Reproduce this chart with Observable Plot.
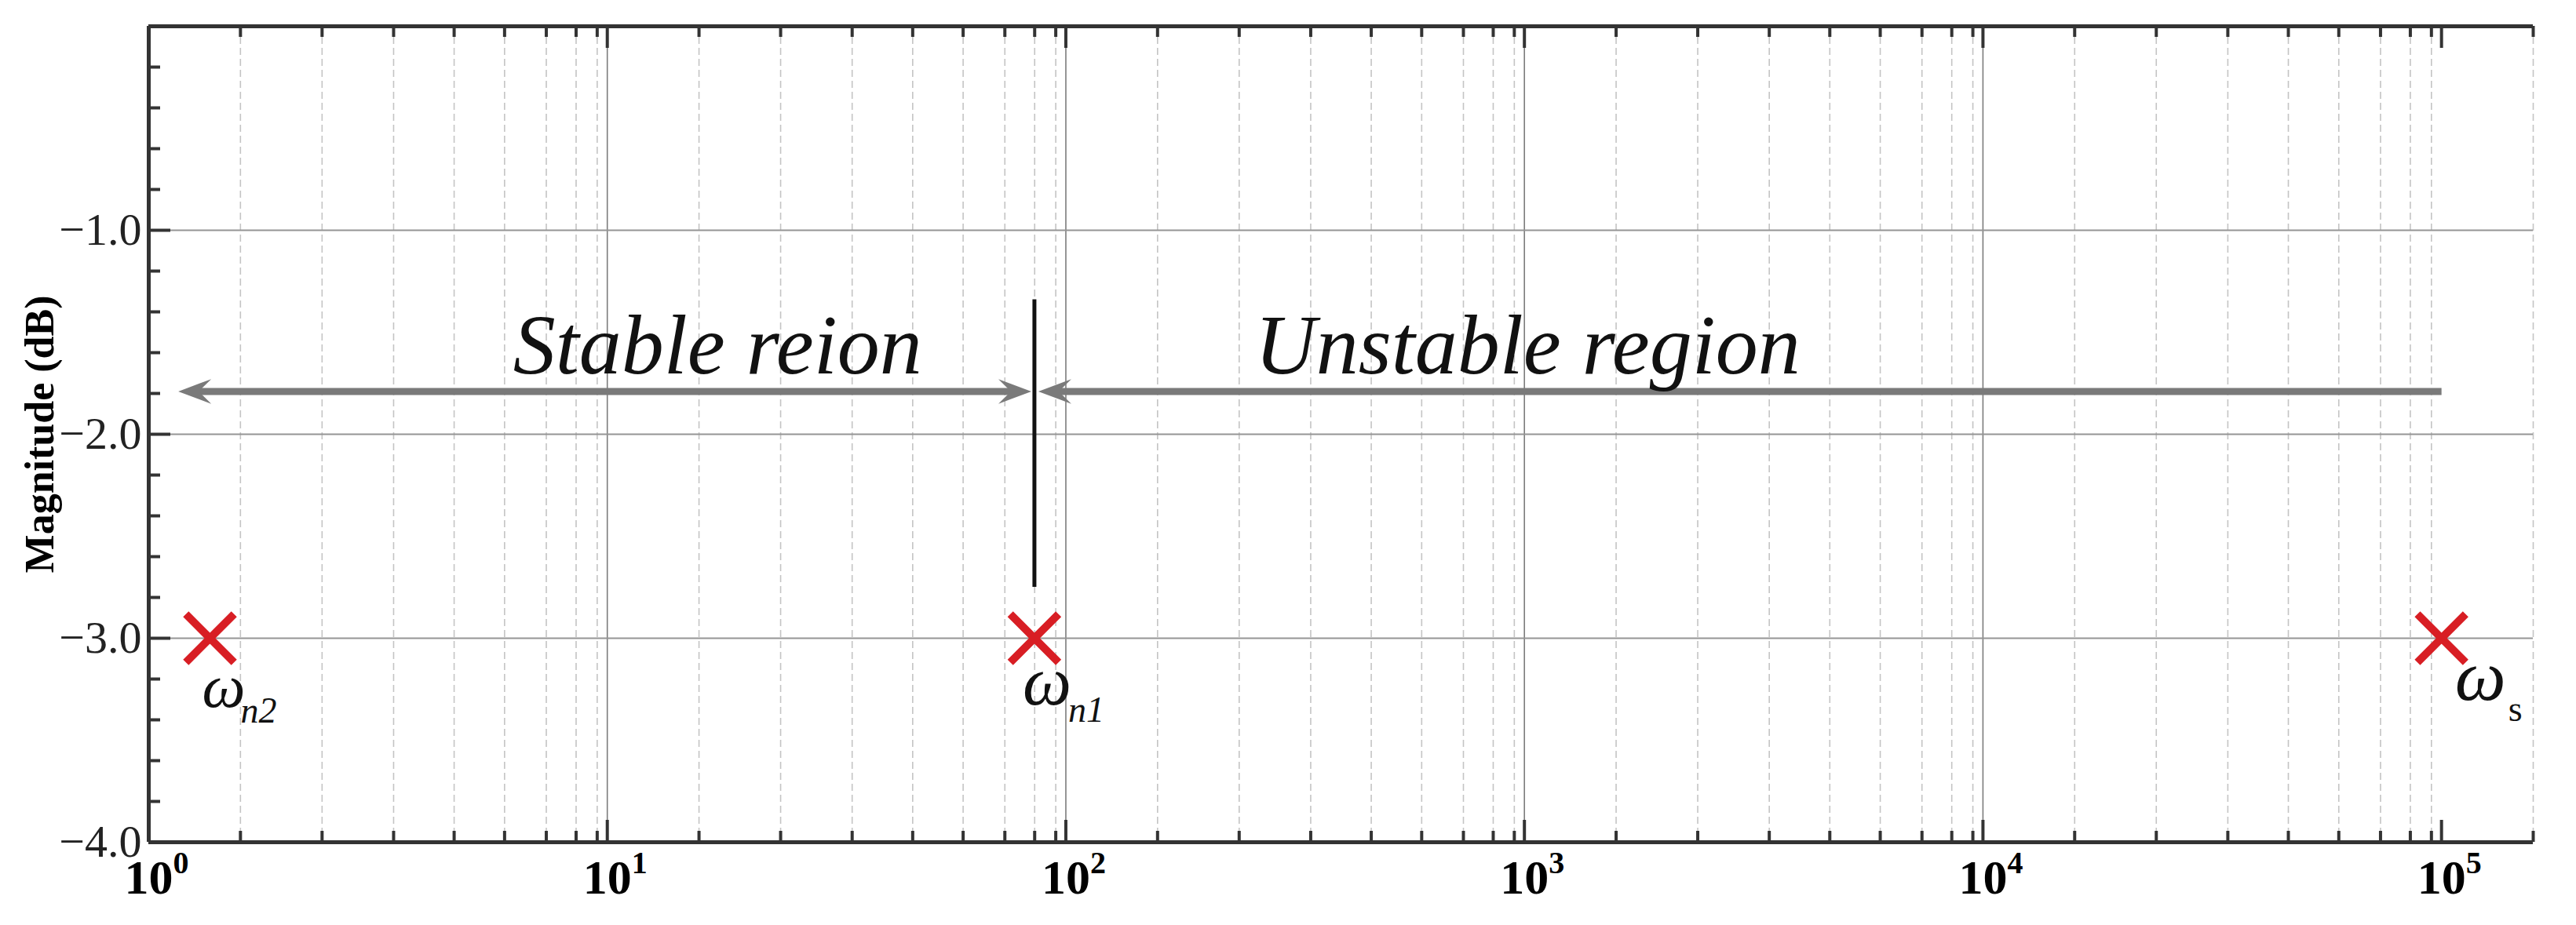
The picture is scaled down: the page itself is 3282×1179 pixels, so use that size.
<!DOCTYPE html>
<html>
<head>
<meta charset="utf-8">
<script src="https://cdn.jsdelivr.net/npm/d3@7"></script>
<script src="https://cdn.jsdelivr.net/npm/@observablehq/plot@0.6"></script>
<style>
  html, body { margin: 0; padding: 0; background: #fff; }
  #chart svg { display: block; }
</style>
</head>
<body>
<div id="chart"></div>
<script>
// ---------- data ----------
const majorFreqs = [1, 10, 100, 1000, 10000, 100000];          // labelled decades 10^0 … 10^5
const majorGridFreqs = [10, 100, 1000, 10000];                  // solid vertical grid lines
const minorOffsets = [0.2, 0.378, 0.534, 0.666, 0.776, 0.867, 0.932, 0.978]; // minor tick places inside a decade (as drawn)
const minorDecades = [0, 1, 2, 3, 4];
const lastMinorExp = 5.2;                                       // minor tick at the right edge
const xDomainExp = [0, 5.2];

const magTicks = [-1, -2, -3, -4];
const magGrid = [-1, -2, -3];
const magMinor = [-0.2, -0.4, -0.6, -0.8, -1.2, -1.4, -1.6, -1.8, -2.2, -2.4, -2.6, -2.8, -3.2, -3.4, -3.6, -3.8];
const magDomain = [-4, 0];

const poleSymbols = ["ω", "ω", "ω"];
const poleSubs = ["n2", "n1", "s"];
const poleFreqs = [1.36, 85.4, 100000];
const poleMags = [-3, -3, -3];

const boundaryFreq = 85.4;
const boundaryMags = [-1.34, -2.75];

const arrowMag = -1.79;
const stableRange = [1.16, 84.1];
const unstableRange = [87.1, 100000];

const regionLabels = ["Stable reion", "Unstable region"];
const regionFreqs = [17.4, 1016];
const regionMag = -1.70;

const yLabel = "Magnitude (dB)";

// ---------- layout / style ----------
const W = 3282, H = 1179;
const mL = 189, mR = 55, mT = 33, mB = 106;
const frameW = W - mL - mR, frameH = H - mT - mB;
const serif = "'Liberation Serif', 'Times New Roman', Times, serif";
const dark = "#333";
const arrowGray = "#7a7a7a";
const red = "#d81e24";

const minorFreqs = [];
for (const k of minorDecades) for (const f of minorOffsets) minorFreqs.push(Math.pow(10, k + f));
minorFreqs.push(Math.pow(10, lastMinorExp));

// stealth arrow heads (tip at the anchor point)
function stealth(dir) {
  return {
    draw(context, size) {
      const r = Math.sqrt(size / Math.PI);
      const L = 2 * r, Wd = 1.5 * r, n = 0.62 * L;
      context.moveTo(0, 0);
      context.lineTo(-dir * L, -Wd / 2);
      context.lineTo(-dir * n, 0);
      context.lineTo(-dir * L, Wd / 2);
      context.closePath();
    }
  };
}
const headRight = stealth(1), headLeft = stealth(-1);

const poleLayout = [
  {dx: -10, dy: 87, size: 78, subDx: 39, subDy: 107, subSize: 46, subItalic: true},
  {dx: -15, dy: 84, size: 88, subDx: 43, subDy: 106, subSize: 46, subItalic: true},
  {dx: 17, dy: 78, size: 92, subDx: 85, subDy: 105, subSize: 46, subItalic: false}
];

const marks = [
  // grid
  Plot.ruleX(minorFreqs, {stroke: "#c4c4c4", strokeWidth: 1.6, strokeDasharray: "9,5"}),
  Plot.ruleX(majorGridFreqs, {stroke: "#7c7c7c", strokeWidth: 1.6}),
  Plot.ruleY(magGrid, {stroke: "#959595", strokeWidth: 2}),
  // ticks (inward)
  Plot.ruleX(minorFreqs, {stroke: dark, strokeWidth: 4, insetTop: frameH - 14}),
  Plot.ruleX(minorFreqs, {stroke: dark, strokeWidth: 4, insetBottom: frameH - 14}),
  Plot.ruleX(majorFreqs, {stroke: dark, strokeWidth: 4, insetTop: frameH - 28}),
  Plot.ruleX(majorFreqs, {stroke: dark, strokeWidth: 4, insetBottom: frameH - 28}),
  Plot.ruleY(magMinor, {stroke: dark, strokeWidth: 4, insetRight: frameW - 15}),
  Plot.ruleY(magTicks, {stroke: dark, strokeWidth: 4, insetRight: frameW - 28}),
  // frame (top, bottom, left)
  Plot.ruleY(magDomain, {stroke: dark, strokeWidth: 5}),
  Plot.ruleX([majorFreqs[0]], {stroke: dark, strokeWidth: 5}),
  // boundary line
  Plot.ruleX([boundaryFreq], {y1: () => boundaryMags[0], y2: () => boundaryMags[1], stroke: "#111", strokeWidth: 5}),
  // arrow shafts
  Plot.arrow([0], {x1: () => stableRange[0], x2: () => stableRange[1], y1: () => arrowMag, y2: () => arrowMag,
    headLength: 0, insetStart: 20, insetEnd: 20, stroke: arrowGray, strokeWidth: 9, strokeLinecap: "butt"}),
  Plot.arrow([0], {x1: () => unstableRange[0], x2: () => unstableRange[1], y1: () => arrowMag, y2: () => arrowMag,
    headLength: 0, insetStart: 20, insetEnd: 0, stroke: arrowGray, strokeWidth: 9, strokeLinecap: "butt"}),
  // arrow heads
  Plot.dot([stableRange[0], unstableRange[0]], {x: d => d, y: () => arrowMag, symbol: headLeft, r: 21, fill: arrowGray, stroke: "none"}),
  Plot.dot([stableRange[1]], {x: d => d, y: () => arrowMag, symbol: headRight, r: 21, fill: arrowGray, stroke: "none"}),
  // region texts
  Plot.text([0, 1], {x: i => regionFreqs[i], y: () => regionMag, text: i => regionLabels[i],
    fontSize: 108, fontStyle: "italic", fontFamily: serif, lineAnchor: "bottom", fill: "#111"}),
  // poles
  Plot.dot([0, 1, 2], {x: i => poleFreqs[i], y: i => poleMags[i], symbol: "times", r: 28,
    stroke: red, strokeWidth: 10, fill: "none"}),
  // x tick labels
  Plot.text(majorFreqs, {x: d => d, frameAnchor: "bottom", text: () => "10", dy: 46, textAnchor: "middle", lineAnchor: "middle",
    fontSize: 62, fontWeight: "bold", fontFamily: serif, fill: "#000"}),
  Plot.text(majorFreqs, {x: d => d, frameAnchor: "bottom", text: d => String(Math.round(Math.log10(d))),
    dx: 31, dy: 27, textAnchor: "start", lineAnchor: "middle", fontSize: 40, fontWeight: "bold", fontFamily: serif, fill: "#000"}),
  // y tick labels
  Plot.text(magTicks, {y: d => d, frameAnchor: "left", text: d => "\u2212" + Math.abs(d).toFixed(1),
    textAnchor: "end", dx: -9, lineAnchor: "middle", fontSize: 58, fontFamily: serif, fill: "#222"}),
  // y label
  Plot.text([yLabel], {frameAnchor: "left", text: d => d, rotate: -90, dx: -138, textAnchor: "middle", lineAnchor: "middle",
    fontSize: 52, fontWeight: "bold", fontFamily: serif, fill: "#000"})
];

poleLayout.forEach((p, i) => {
  marks.push(Plot.text([i], {x: j => poleFreqs[j], y: j => poleMags[j], text: j => poleSymbols[j],
    dx: p.dx, dy: p.dy, textAnchor: "start", lineAnchor: "bottom", fontSize: p.size, fontStyle: "italic",
    fontFamily: serif, fill: "#111"}));
  marks.push(Plot.text([i], {x: j => poleFreqs[j], y: j => poleMags[j], text: j => poleSubs[j],
    dx: p.subDx, dy: p.subDy, textAnchor: "start", lineAnchor: "bottom", fontSize: p.subSize,
    fontStyle: p.subItalic ? "italic" : "normal", fontFamily: serif, fill: "#111"}));
});

const chart = Plot.plot({
  width: W, height: H,
  marginLeft: mL, marginRight: mR, marginTop: mT, marginBottom: mB,
  style: {background: "#fff", overflow: "visible"},
  x: {type: "log", domain: xDomainExp.map(e => Math.pow(10, e)), axis: null},
  y: {domain: magDomain, axis: null},
  marks
});
document.getElementById("chart").appendChild(chart);
</script>
</body>
</html>
